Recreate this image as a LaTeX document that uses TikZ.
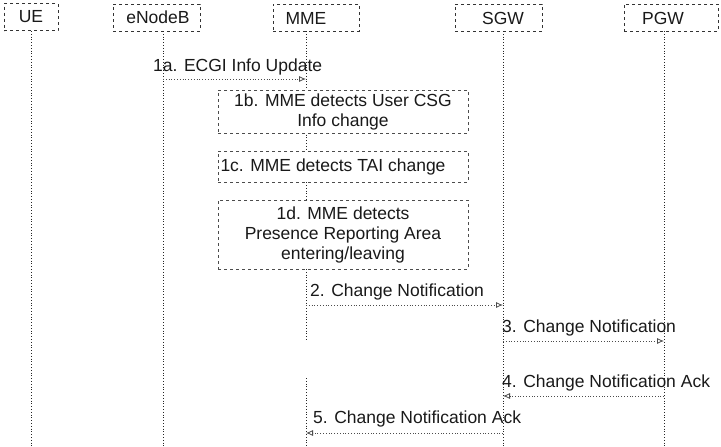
\documentclass[tikz,border=0pt]{standalone}
\usepackage{fontspec}
\setmainfont{Liberation Sans}
\usetikzlibrary{arrows.meta}
\begin{document}
\begin{tikzpicture}[x=1pt,y=-1pt,
  every node/.style={font=\fontsize{17.5}{20}\selectfont, text=black!90, inner sep=0pt},
  entitybox/.style={draw=black!80, dashed, line width=0.8pt},
  procbox/.style={draw=black!70, dashed, fill=white, line width=0.7pt},
  lifeline/.style={draw=black!85, dotted, line width=0.8pt},
  msg/.style={draw=black!70, dotted, line width=0.8pt, -{Latex[open,length=7pt,width=6pt]}},
  lbl/.style={anchor=west}]
\useasboundingbox (0,0) rectangle (721,447);

% entity boxes
\node[entitybox, minimum width=54pt, minimum height=27pt] (ueBox) at (31,17) {};
\node (ueT) at (31,17) {UE};
\node[entitybox, minimum width=87pt, minimum height=27pt] (enbBox) at (156.5,17.5) {};
\node (enbT) at (158,17.5) {eNodeB};
\node[entitybox, minimum width=86pt, minimum height=27pt] (mmeBox) at (316,17.5) {};
\node (mmeT) at (306,18.5) {MME};
\node[entitybox, minimum width=87pt, minimum height=27pt] (sgwBox) at (498.5,17.5) {};
\node (sgwT) at (503,18.5) {SGW};
\node[entitybox, minimum width=94pt, minimum height=27pt] (pgwBox) at (671,17.5) {};
\node (pgwT) at (663,18.5) {PGW};

% lifeline coordinates
\coordinate (ueTop) at (31,31);   \coordinate (ueBot) at (31,447);
\coordinate (enbTop) at (163,31); \coordinate (enbBot) at (163,447);
\coordinate (mmeTop) at (306,31); \coordinate (mmeA) at (306,340);
\coordinate (mmeB) at (306,378);  \coordinate (mmeBot) at (306,447);
\coordinate (sgwTop) at (503,31); \coordinate (sgwBot) at (503,447);
\coordinate (pgwTop) at (664,31); \coordinate (pgwBot) at (664,447);

\draw[lifeline] (ueTop) -- (ueBot);
\draw[lifeline] (enbTop) -- (enbBot);
\draw[lifeline] (mmeTop) -- (mmeA);
\draw[lifeline] (mmeB) -- (mmeBot);
\draw[lifeline] (sgwTop) -- (sgwBot);
\draw[lifeline] (pgwTop) -- (pgwBot);

% process boxes
\node[procbox, minimum width=250pt, minimum height=43pt, align=center] (b1) at (343,111.5) {1b. MME detects User CSG\\Info change};
\node[procbox, minimum width=250pt, minimum height=31pt] (c1) at (343,166.5) {};
\node (c1T) at (333,166.5) {1c. MME detects TAI change};
\node[procbox, minimum width=250pt, minimum height=69pt, align=center] (d1) at (343,234.5) {1d. MME detects\\Presence Reporting Area\\entering/leaving};

% messages
\coordinate (m1s) at (163,79);  \coordinate (m1e) at (306,79);
\draw[msg] (m1s) -- (m1e);
\node[lbl] (m1T) at (153,67) {1a. ECGI Info Update};

\coordinate (m2s) at (306,305); \coordinate (m2e) at (503,305);
\draw[msg] (m2s) -- (m2e);
\node[lbl] (m2T) at (310,292) {2. Change Notification};

\coordinate (m3s) at (503,341); \coordinate (m3e) at (664,341);
\draw[msg] (m3s) -- (m3e);
\node[lbl] (m3T) at (502,328) {3. Change Notification};

\coordinate (m4s) at (664,396); \coordinate (m4e) at (503,396);
\draw[msg] (m4s) -- (m4e);
\node[lbl] (m4T) at (502,383) {4. Change Notification Ack};

\coordinate (m5s) at (503,433); \coordinate (m5e) at (306,433);
\draw[msg] (m5s) -- (m5e);
\node[lbl] (m5T) at (313,419) {5. Change Notification Ack};
\end{tikzpicture}
\end{document}
